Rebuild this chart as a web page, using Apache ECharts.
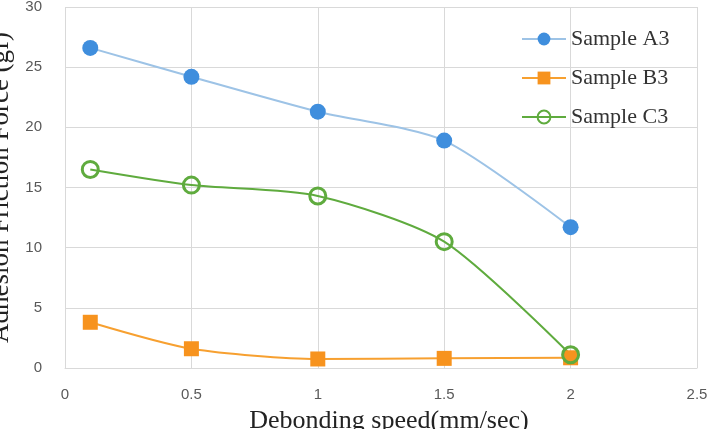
<!DOCTYPE html>
<html>
<head>
<meta charset="utf-8">
<script src="https://cdn.jsdelivr.net/npm/echarts@6/dist/echarts.min.js"></script>
<style>html,body{margin:0;padding:0;background:#fff;}#c{width:707px;height:429px;}</style>
</head>
<body>
<div id="c"></div>
<script>
const speeds = [0.1, 0.5, 1, 1.5, 2];
const sampleA3 = [26.6, 24.2, 21.3, 18.9, 11.7];
const sampleB3 = [3.8, 1.6, 0.75, 0.8, 0.85];
const sampleC3 = [16.5, 15.2, 14.3, 10.5, 1.1];
const seriesNames = ['Sample A3', 'Sample B3', 'Sample C3'];
const xTitle = 'Debonding speed(mm/sec)';
const yTitle = 'Adhesion Friction Force (gf)';

const pairs = v => speeds.map((s, i) => [s, v[i]]);
const chart = echarts.init(document.getElementById('c'));
const grid = '#d9d9d9';
const lbl = {color: '#595959', fontFamily: 'Liberation Sans', fontSize: 15};
chart.setOption({
  animation: false,
  grid: {left: 65, right: 10, top: 7, bottom: 61, outerBoundsMode: 'none', containLabel: false},
  legend: {
    orient: 'vertical', left: 516, top: 23,
    itemWidth: 44, itemHeight: 16, itemGap: 17,
    textStyle: {fontFamily: 'Liberation Serif', fontSize: 22, color: '#333', lineHeight: 22},
    data: seriesNames
  },
  xAxis: {
    type: 'value', min: 0, max: 2.5, interval: 0.5,
    axisLine: {show: true, lineStyle: {color: grid}},
    axisTick: {show: false},
    splitLine: {show: true, lineStyle: {color: grid}},
    axisLabel: Object.assign({margin: 19}, lbl),
    name: xTitle, nameLocation: 'middle', nameGap: 40,
    nameTextStyle: {fontFamily: 'Liberation Serif', fontSize: 26, color: '#222', padding: [0, 0, 0, 16]}
  },
  yAxis: {
    type: 'value', min: 0, max: 30, interval: 5,
    axisLine: {show: false},
    axisTick: {show: false},
    splitLine: {show: true, lineStyle: {color: grid}},
    axisLabel: Object.assign({margin: 23}, lbl),
    name: yTitle, nameLocation: 'middle', nameGap: 42,
    nameTextStyle: {fontFamily: 'Liberation Serif', fontSize: 27, color: '#222'}
  },
  series: [
    {name: seriesNames[0], type: 'line', smooth: 0.25, data: pairs(sampleA3),
     symbol: 'circle', symbolSize: 16,
     itemStyle: {color: '#3F8EDD'}, lineStyle: {color: '#9DC3E6', width: 2}},
    {name: seriesNames[1], type: 'line', smooth: 0.25, data: pairs(sampleB3),
     symbol: 'rect', symbolSize: 15,
     itemStyle: {color: '#F7931E'}, lineStyle: {color: '#F7A030', width: 2}},
    {name: seriesNames[2], type: 'line', smooth: 0.25, data: pairs(sampleC3),
     symbol: 'circle', symbolSize: 16,
     itemStyle: {color: 'rgba(0,0,0,0)', borderColor: '#5FAB3E', borderWidth: 3},
     lineStyle: {color: '#5FAB3E', width: 2}}
  ]
});
</script>
</body>
</html>
